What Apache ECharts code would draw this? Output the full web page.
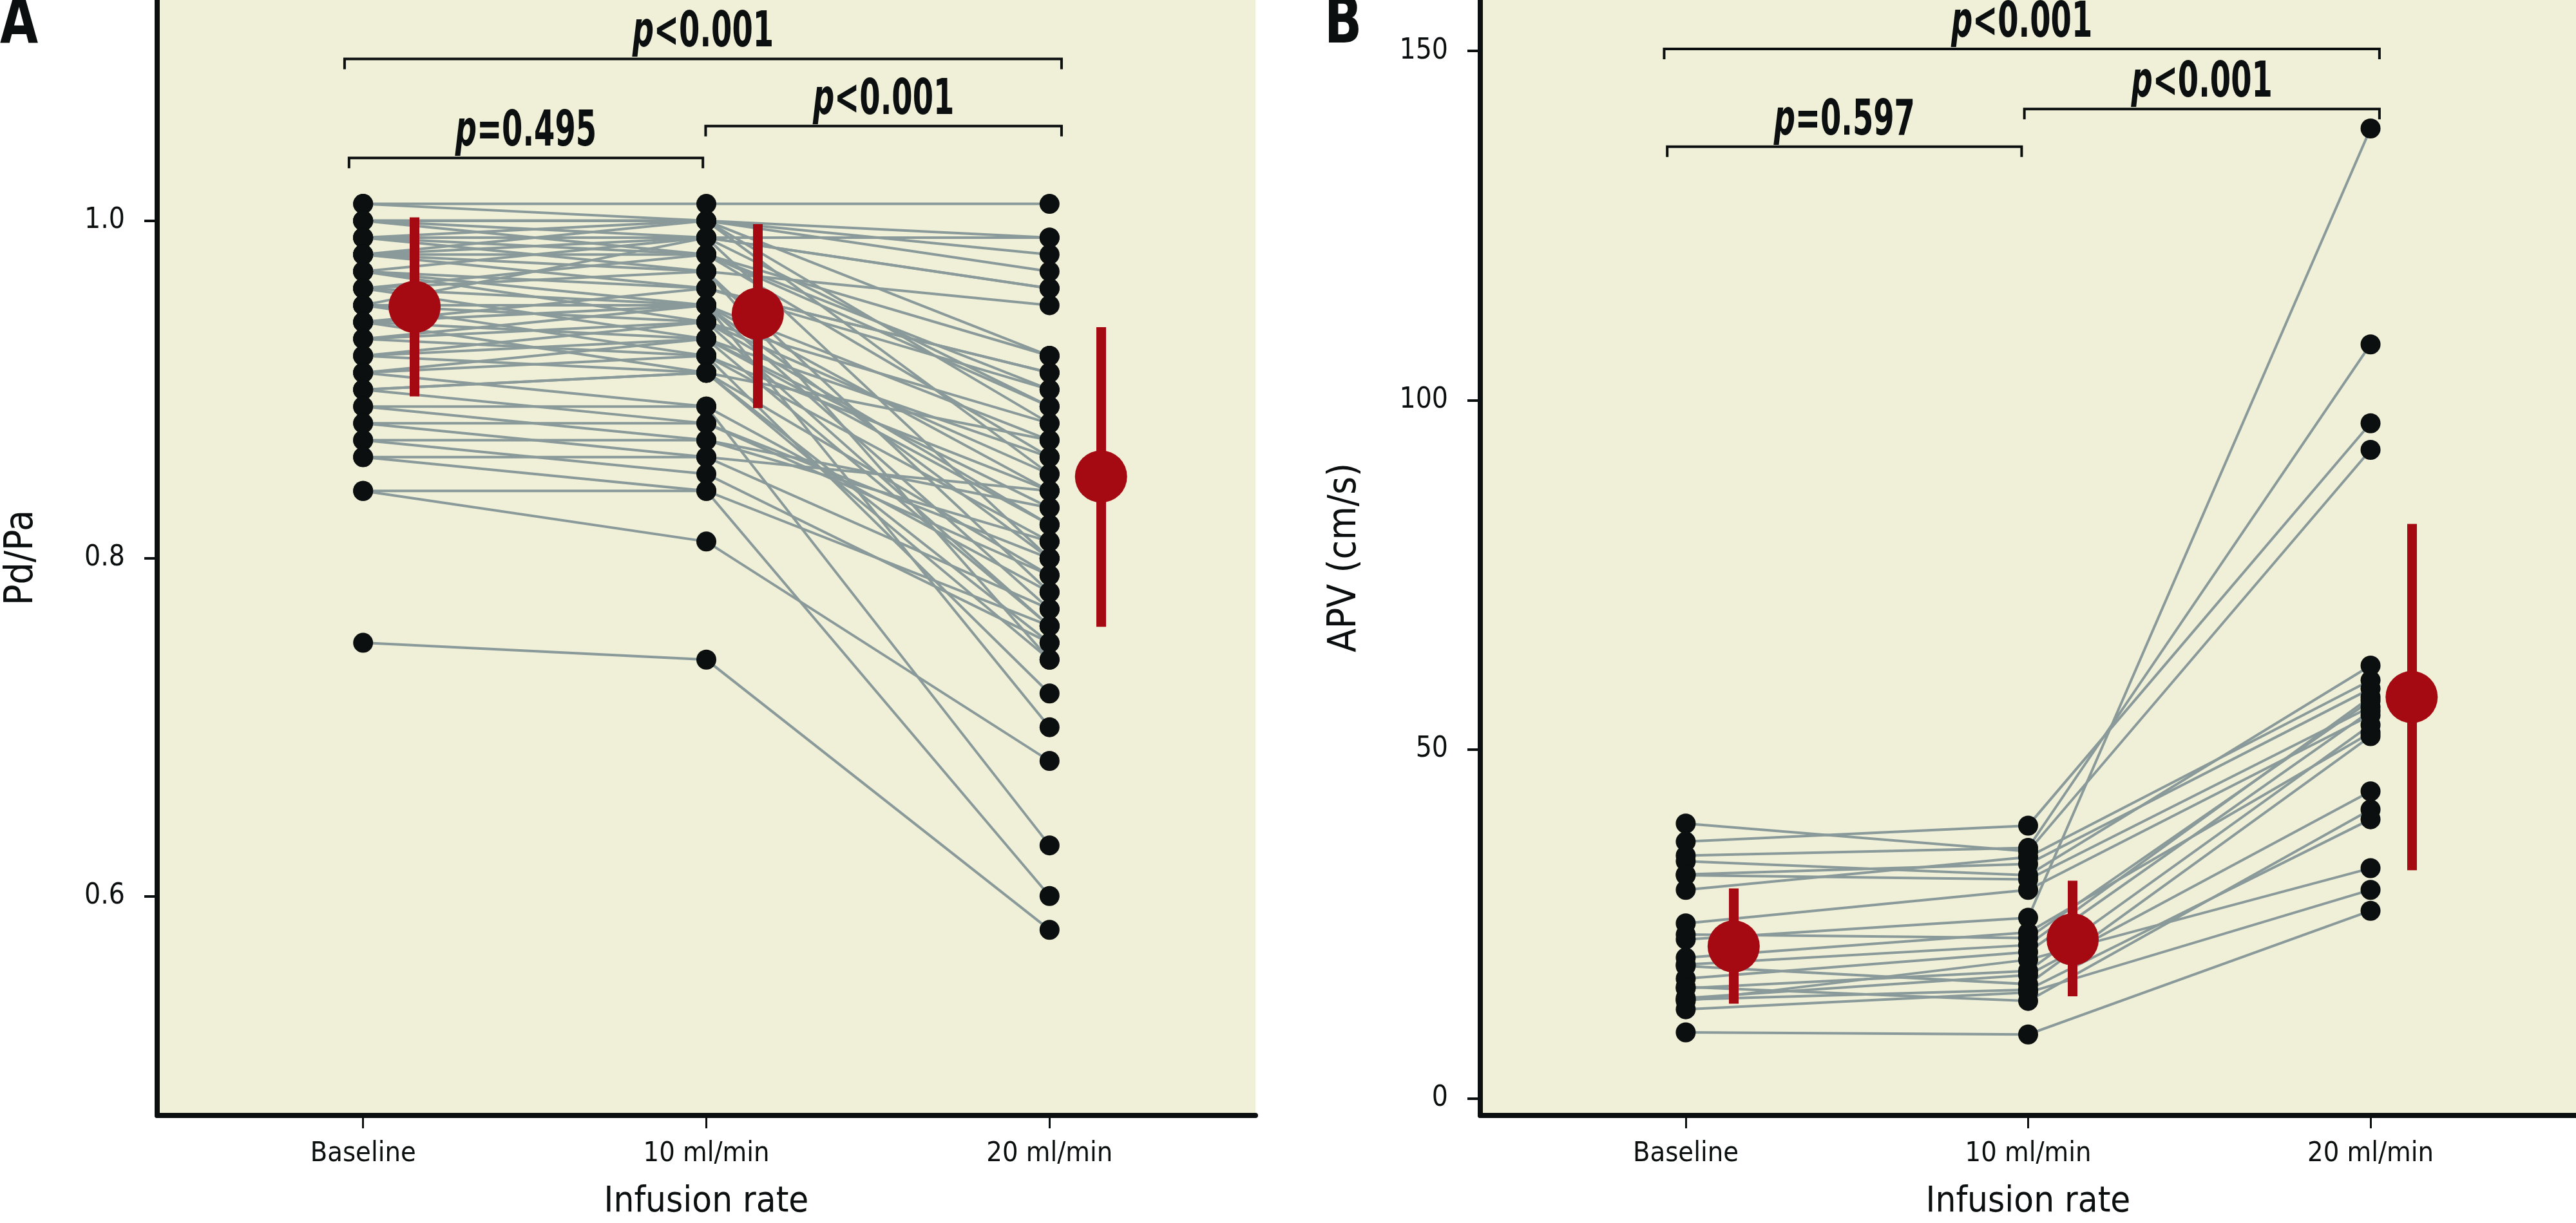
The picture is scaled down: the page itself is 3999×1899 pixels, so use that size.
<!DOCTYPE html>
<html>
<head>
<meta charset="utf-8">
<script src="https://cdn.jsdelivr.net/npm/echarts@6/dist/echarts.min.js"></script>
<style>
html,body{margin:0;padding:0;background:#ffffff;}
#chart{width:3999px;height:1899px;}
</style>
</head>
<body>
<div id="chart"></div>
<script>
// ---------------- data ----------------
const categories = ['Baseline', '10 ml/min', '20 ml/min'];

// Panel A: Pd/Pa, one entry per patient
const pdpaBaseline = [1.01,1.01,1.00,1.00,1.00,1.00,1.00,0.99,0.99,0.99,0.99,0.98,0.98,0.98,0.98,0.98,0.97,0.97,0.97,0.97,0.96,0.96,0.96,0.96,0.95,0.95,0.95,0.95,0.94,0.94,0.94,0.94,0.93,0.93,0.93,0.92,0.92,0.92,0.91,0.91,0.91,0.90,0.90,0.90,0.89,0.89,0.88,0.88,0.87,0.87,0.86,0.86,0.84,0.84,0.75];
const pdpa10 =       [1.01,1.00,1.00,0.99,1.00,0.98,1.00,1.00,0.98,0.99,0.97,0.99,0.96,0.98,0.97,1.00,0.99,0.95,0.96,0.94,0.98,0.95,0.93,0.97,0.99,0.95,0.94,0.92,0.96,0.93,0.95,0.91,0.94,0.92,0.95,0.93,0.91,0.94,0.92,0.89,0.93,0.91,0.88,0.91,0.89,0.87,0.88,0.86,0.87,0.85,0.86,0.84,0.84,0.81,0.74];
const pdpa20 =       [1.01,0.99,0.98,0.96,0.92,0.90,0.85,0.97,0.89,0.80,0.95,0.99,0.91,0.86,0.78,0.88,0.96,0.84,0.90,0.76,0.92,0.87,0.82,0.74,0.89,0.80,0.85,0.72,0.91,0.83,0.77,0.79,0.88,0.81,0.70,0.86,0.75,0.82,0.84,0.78,0.76,0.87,0.80,0.74,0.63,0.81,0.79,0.77,0.83,0.75,0.84,0.60,0.76,0.68,0.58];
const pdpaMean  = [0.949, 0.945, 0.8485];
const pdpaUpper = [1.002, 0.998, 0.937];
const pdpaLower = [0.896, 0.889, 0.7595];
const pdpaTicks = [0.6, 0.8, 1.0];

// Panel B: APV (cm/s), one entry per patient
const apvBaseline = [39.4,36.8,34.8,34.0,32.1,32.0,29.9,25.1,22.8,20.2,19.2,19.0,17.2,16.0,15.8,14.4,14.2,14.0,12.8,9.5,23.5];
const apv10 =       [35.4,39.1,35.9,32.0,33.6,31.4,34.6,29.9,25.9,23.8,22.0,16.4,21.0,14.0,18.3,17.7,15.6,19.9,15.2,9.2,23.0];
const apv20 =       [92.9,96.7,108.0,62.0,58.7,56.1,59.9,54.9,138.9,52.4,57.5,51.9,55.5,41.4,53.5,44.0,40.0,33.0,29.9,26.9,57.0];
const apvMean  = [21.8, 22.8, 57.5];
const apvUpper = [30.1, 31.2, 82.3];
const apvLower = [13.6, 14.65, 32.7];
const apvTicks = [0, 50, 100, 150];

// summary marker x positions (slightly right of each group)
const meanXA = [1.15, 2.15, 3.15];
const meanXB = [1.14, 2.13, 3.12];

// significance brackets
const bracketFromA  = [0.946, 0.959, 1.998];
const bracketToA    = [3.035, 1.990, 3.035];
const bracketLevelA = [1.0959, 1.0372, 1.0561];
const bracketTextA  = ['<0.001', '=0.495', '<0.001'];

const bracketFromB  = [0.937, 0.946, 1.989];
const bracketToB    = [3.026, 1.981, 3.026];
const bracketLevelB = [150.3, 136.3, 141.7];
const bracketTextB  = ['<0.001', '=0.597', '<0.001'];

// ---------------- styling ----------------
const FONT = "'Liberation Sans Narrow', 'DejaVu Sans Condensed', 'Liberation Sans', sans-serif";
const BG = '#EFF0D7';
const INK = '#0C0F0F';
const GREY = '#8A9A9A';
const RED = '#A50A12';

function bracketRender(from, to, level, texts) {
  return function (params, api) {
    const i = params.dataIndex;
    const p1 = api.coord([from[i], level[i]]);
    const p2 = api.coord([to[i], level[i]]);
    return {
      type: 'group',
      children: [
        {
          type: 'polyline',
          shape: { points: [[p1[0], p1[1] + 16], [p1[0], p1[1]], [p2[0], p2[1]], [p2[0], p2[1] + 16]] },
          style: { stroke: INK, lineWidth: 4, fill: 'none' }
        },
        {
          type: 'text',
          x: (p1[0] + p2[0]) / 2,
          y: p1[1] - 1,
          scaleX: 0.68,
          style: {
            text: '{i|p}{n|' + texts[i] + '}',
            align: 'center',
            verticalAlign: 'bottom',
            rich: {
              i: { fontSize: 76, fontWeight: 'bold', fontStyle: 'italic', fontFamily: FONT, fill: INK },
              n: { fontSize: 76, fontWeight: 'bold', fontFamily: FONT, fill: INK }
            }
          }
        }
      ]
    };
  };
}

function panelSeries(idx, base, t10, t20, mean, up, lo, meanX, bFrom, bTo, bLevel, bText) {
  const dots = [];
  [base, t10, t20].forEach((arr, k) => arr.forEach(v => dots.push([k + 1, v])));
  return [
    {
      type: 'lines', coordinateSystem: 'cartesian2d', xAxisIndex: idx, yAxisIndex: idx,
      polyline: true, silent: true, z: 2,
      lineStyle: { color: GREY, width: 4, opacity: 1 },
      data: base.map((b, i) => ({ coords: [[1, b], [2, t10[i]], [3, t20[i]]] }))
    },
    {
      type: 'scatter', xAxisIndex: idx, yAxisIndex: idx, silent: true, z: 3,
      symbolSize: 31, itemStyle: { color: INK, opacity: 1 },
      data: dots
    },
    {
      type: 'lines', coordinateSystem: 'cartesian2d', xAxisIndex: idx, yAxisIndex: idx,
      silent: true, z: 4,
      lineStyle: { color: RED, width: 15, opacity: 1, cap: 'butt' },
      data: mean.map((m, i) => ({ coords: [[meanX[i], lo[i]], [meanX[i], up[i]]] }))
    },
    {
      type: 'scatter', xAxisIndex: idx, yAxisIndex: idx, silent: true, z: 5,
      symbolSize: 81, itemStyle: { color: RED, opacity: 1 },
      data: mean.map((m, i) => [meanX[i], m])
    },
    {
      type: 'custom', xAxisIndex: idx, yAxisIndex: idx, silent: true, z: 6, clip: false,
      renderItem: bracketRender(bFrom, bTo, bLevel, bText),
      data: bFrom.map((f, i) => [f, bLevel[i]])
    }
  ];
}

function xAxisFor(idx) {
  return {
    gridIndex: idx, type: 'value', min: 0.4, max: 3.6,
    axisLine: { show: true, onZero: false, lineStyle: { color: INK, width: 8 } },
    axisTick: { show: true, customValues: [1, 2, 3], length: 20, lineStyle: { color: INK, width: 3 } },
    axisLabel: {
      customValues: [1, 2, 3], formatter: v => categories[Math.round(v) - 1],
      fontSize: 43, fontFamily: FONT, color: INK, margin: 38
    },
    splitLine: { show: false },
    name: 'Infusion rate', nameLocation: 'middle', nameGap: 106,
    nameTextStyle: { fontSize: 56, fontFamily: FONT, color: INK }
  };
}

function yAxisFor(idx, min, max, ticks, fmt, name) {
  return {
    gridIndex: idx, type: 'value', min: min, max: max,
    axisLine: { show: true, lineStyle: { color: INK, width: 8 } },
    axisTick: { show: true, customValues: ticks, length: 20, lineStyle: { color: INK, width: 4 } },
    axisLabel: { customValues: ticks, formatter: fmt, fontSize: 44, fontFamily: FONT, color: INK, margin: 50 },
    splitLine: { show: false },
    name: name, nameLocation: 'middle', nameGap: 180, nameRotate: 90,
    nameTextStyle: { fontSize: 60, fontFamily: FONT, color: INK }
  };
}

const chart = echarts.init(document.getElementById('chart'), null, { renderer: 'canvas' });
chart.setOption({
  backgroundColor: '#ffffff',
  animation: false,
  grid: [
    { left: 244, top: 0, width: 1705, height: 1743, show: true, backgroundColor: BG, borderWidth: 0 },
    { left: 2298, top: 0, width: 1701, height: 1743, show: true, backgroundColor: BG, borderWidth: 0 }
  ],
  xAxis: [xAxisFor(0), xAxisFor(1)],
  yAxis: [
    yAxisFor(0, 0.47, 1.1308, pdpaTicks, v => v.toFixed(1), 'Pd/Pa'),
    yAxisFor(1, -2.4, 157.3, apvTicks, v => String(Math.round(v)), 'APV (cm/s)')
  ],
  graphic: [
    { type: 'text', left: 0, top: -10, scaleX: 0.85, style: { text: 'A', fontSize: 100, fontWeight: 'bold', fontFamily: FONT, fill: INK } },
    { type: 'text', left: 2056, top: -10, scaleX: 0.85, style: { text: 'B', fontSize: 100, fontWeight: 'bold', fontFamily: FONT, fill: INK } }
  ],
  series: [].concat(
    panelSeries(0, pdpaBaseline, pdpa10, pdpa20, pdpaMean, pdpaUpper, pdpaLower, meanXA,
      bracketFromA, bracketToA, bracketLevelA, bracketTextA),
    panelSeries(1, apvBaseline, apv10, apv20, apvMean, apvUpper, apvLower, meanXB,
      bracketFromB, bracketToB, bracketLevelB, bracketTextB)
  )
});
</script>
</body>
</html>
